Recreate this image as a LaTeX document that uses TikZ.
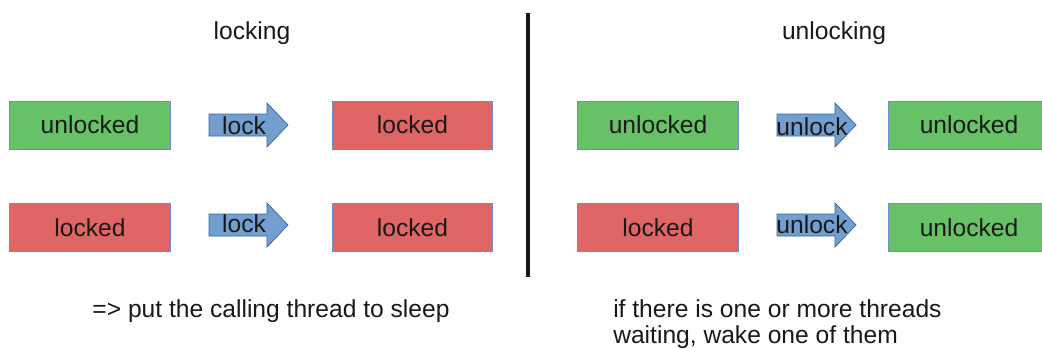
\documentclass[tikz,border=0pt]{standalone}
\usepackage{fontspec}
\setmainfont{Liberation Sans}
\usetikzlibrary{positioning}

\definecolor{freegreen}{RGB}{103,193,103}
\definecolor{heldred}{RGB}{224,102,102}
\definecolor{arrowfill}{RGB}{114,159,207}
\definecolor{arrowline}{RGB}{52,101,164}
\definecolor{boxline}{RGB}{112,140,196}

\begin{document}
\begin{tikzpicture}[
    x=0.025cm, y=-0.025cm,
    every node/.style={font=\fontsize{17.5}{21}\selectfont, text=black!90},
    state/.style={rectangle, draw=boxline, line width=0.7pt, minimum width=4cm, minimum height=1.2cm, inner sep=0pt},
    free/.style={state, fill=freegreen},
    held/.style={state, fill=heldred},
    blockarrow/.style={fill=arrowfill, draw=arrowline, line width=0.5pt, line join=miter},
    arrowtext/.style={inner sep=0pt},
    divider/.style={line width=2.2pt, black!90}
]
\useasboundingbox (0,0) rectangle (1042,349);

% Titles
\node[anchor=base] (locktitle) at (252,39) {locking};
\node[anchor=base] (unlocktitle) at (834,39) {unlocking};

% Divider
\coordinate (divtop) at (528,13);
\coordinate (divbot) at (528,277);
\draw[divider] (divtop) -- (divbot);

% Block arrows
\foreach \ax/\ay in {209/125, 209/225, 777/125, 777/225} {
    \draw[blockarrow] (\ax,\ay) ++(0,-11) -- ++(58,0) -- ++(0,-11) -- ++(21,22)
        -- ++(-21,22) -- ++(0,-11) -- ++(-58,0) -- cycle;
}

% Locking side
\node[free] (l1a) at (90,125) {unlocked};
\node[held] (l1b) at (412.5,125) {locked};
\node[held] (l2a) at (90,227.5) {locked};
\node[held] (l2b) at (412.5,227.5) {locked};
\node[arrowtext] (lk1) at (244,126) {lock};
\node[arrowtext] (lk2) at (244,224) {lock};

% Unlocking side (last column runs off the right edge)
\node[free] (u1a) at (658,125) {unlocked};
\node[free, minimum width=4.6cm] (u1b) at (981,125) {};
\node[free, minimum width=4.6cm] (u2b) at (981,227.5) {};
\node[held] (u2a) at (658,227.5) {locked};
\node[arrowtext] (u1btext) at (969,125) {unlocked};
\node[arrowtext] (u2btext) at (969,227.5) {unlocked};
\node[arrowtext] (ulk1) at (812,126.5) {unlock};
\node[arrowtext] (ulk2) at (812,224.5) {unlock};

% Notes
\node[anchor=base] (locknote) at (271,317) {=> put the calling thread to sleep};
\node[anchor=base west, inner sep=0pt] (unlocknote1) at (613,317) {if there is one or more threads};
\node[anchor=base west, inner sep=0pt] (unlocknote2) at (613,343) {waiting, wake one of them};

\end{tikzpicture}
\end{document}
